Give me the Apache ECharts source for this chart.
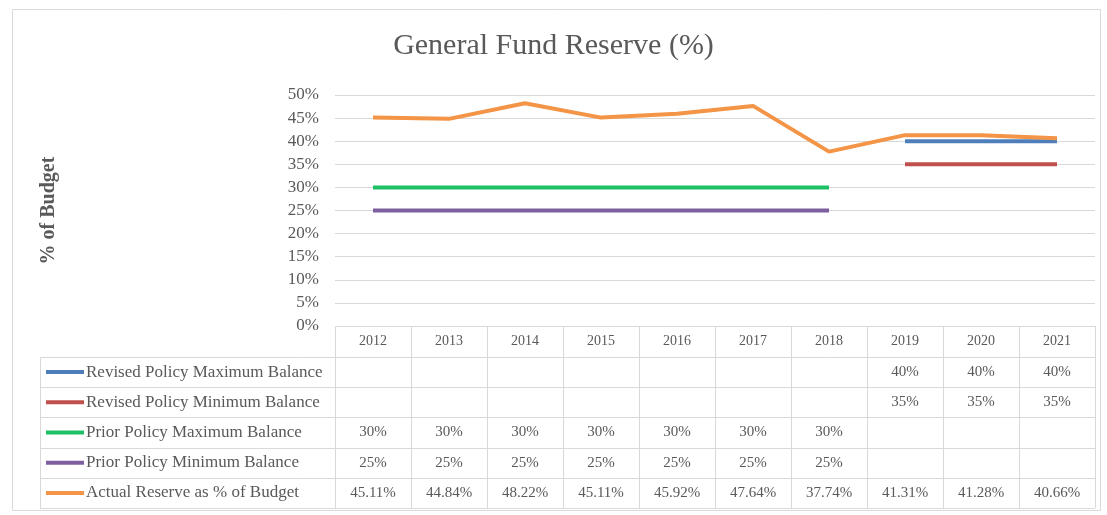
<!DOCTYPE html>
<html>
<head>
<meta charset="utf-8">
<script src="https://cdn.jsdelivr.net/npm/echarts@6/dist/echarts.min.js"></script>
<style>
  html, body { margin: 0; padding: 0; background: #fff; }
  #main { width: 1107px; height: 515px; }
</style>
</head>
<body>
<div id="main"></div>
<script>
// data
const years = ['2012', '2013', '2014', '2015', '2016', '2017', '2018', '2019', '2020', '2021'];
const revisedMax = [null, null, null, null, null, null, null, 40, 40, 40];
const revisedMin = [null, null, null, null, null, null, null, 35, 35, 35];
const priorMax = [30, 30, 30, 30, 30, 30, 30, null, null, null];
const priorMin = [25, 25, 25, 25, 25, 25, 25, null, null, null];
const actual = [45.11, 44.84, 48.22, 45.11, 45.92, 47.64, 37.74, 41.31, 41.28, 40.66];
const yTicks = [0, 5, 10, 15, 20, 25, 30, 35, 40, 45, 50];

const rows = [
  { name: 'Revised Policy Maximum Balance', data: revisedMax, color: '#4f7fba', dec: 0 },
  { name: 'Revised Policy Minimum Balance', data: revisedMin, color: '#bf504d', dec: 0 },
  { name: 'Prior Policy Maximum Balance', data: priorMax, color: '#1fc166', dec: 0 },
  { name: 'Prior Policy Minimum Balance', data: priorMin, color: '#7d5fa0', dec: 0 },
  { name: 'Actual Reserve as % of Budget', data: actual, color: '#f39446', dec: 2 }
];

const FONT = '"Liberation Serif", "DejaVu Serif", serif';
const TXT = '#595959';
const BORDER = '#d9d9d9';

const chart = echarts.init(document.getElementById('main'));

const gridTop = 95, gridBottom = 326, gridLeft = 335, gridRight = 1095;

chart.setOption({
  backgroundColor: '#fff',
  animation: false,
  title: {
    text: 'General Fund Reserve (%)',
    left: 'center', top: 26,
    textStyle: { fontFamily: FONT, fontSize: 30, fontWeight: 'normal', color: TXT }
  },
  grid: { left: gridLeft, right: 1107 - gridRight, top: gridTop, bottom: 515 - gridBottom },
  xAxis: {
    type: 'category', data: years, boundaryGap: true,
    axisLine: { show: false }, axisTick: { show: false },
    axisLabel: { show: false }
  },
  yAxis: {
    type: 'value', min: yTicks[0], max: yTicks[yTicks.length - 1], interval: 5,
    name: '% of Budget', nameLocation: 'middle', nameGap: 276, nameRotate: 90,
    nameTextStyle: { fontFamily: FONT, fontSize: 20, fontWeight: 'bold', color: TXT },
    axisLine: { show: false }, axisTick: { show: false },
    axisLabel: { formatter: v => v + '%', fontFamily: FONT, fontSize: 17, color: TXT, margin: 16 },
    splitLine: { lineStyle: { color: BORDER, width: 1 } }
  },
  series: rows.map(r => ({
    name: r.name, type: 'line', data: r.data,
    symbol: 'none', connectNulls: false,
    lineStyle: { color: r.color, width: 4 },
    itemStyle: { color: r.color }
  }))
});

// data table under the plot, aligned to the category axis
function buildTable() {
  const g = [];
  const xs = years.map((_, i) => chart.convertToPixel({ xAxisIndex: 0 }, i));
  const half = (xs[1] - xs[0]) / 2;
  const left = 40, tableLeft = xs[0] - half, right = xs[xs.length - 1] + half;
  const headTop = gridBottom, headBot = 357, rowH = 30.2;
  const bottom = headBot + rowH * rows.length;

  // outer frame
  g.push({ type: 'rect', shape: { x: 12.5, y: 9.5, width: 1088, height: 501 },
    style: { fill: 'none', stroke: BORDER, lineWidth: 1 } });

  // horizontal lines
  g.push({ type: 'line', shape: { x1: tableLeft, y1: headTop + 0.5, x2: right, y2: headTop + 0.5 },
    style: { stroke: BORDER, lineWidth: 1 } });
  for (let k = 0; k <= rows.length; k++) {
    const y = Math.round(headBot + rowH * k) + 0.5;
    g.push({ type: 'line', shape: { x1: left, y1: y, x2: right, y2: y },
      style: { stroke: BORDER, lineWidth: 1 } });
  }
  // vertical lines
  g.push({ type: 'line', shape: { x1: left + 0.5, y1: headBot, x2: left + 0.5, y2: bottom },
    style: { stroke: BORDER, lineWidth: 1 } });
  for (let i = 0; i <= years.length; i++) {
    const x = Math.round(tableLeft + 2 * half * i) + 0.5;
    g.push({ type: 'line', shape: { x1: x, y1: headTop, x2: x, y2: bottom },
      style: { stroke: BORDER, lineWidth: 1 } });
  }
  // header years
  years.forEach((y, i) => g.push({ type: 'text', x: xs[i], y: (headTop + headBot) / 2,
    style: { text: y, fontFamily: FONT, fontSize: 14, fill: TXT, align: 'center', verticalAlign: 'middle' } }));
  // rows
  rows.forEach((r, k) => {
    const cy = headBot + rowH * (k + 0.5);
    g.push({ type: 'line', shape: { x1: 46, y1: cy, x2: 84, y2: cy },
      style: { stroke: r.color, lineWidth: 4 } });
    g.push({ type: 'text', x: 86, y: cy,
      style: { text: r.name, fontFamily: FONT, fontSize: 17, fill: TXT, verticalAlign: 'middle' } });
    r.data.forEach((v, i) => {
      if (v == null) return;
      g.push({ type: 'text', x: xs[i], y: cy,
        style: { text: v.toFixed(r.dec) + '%', fontFamily: FONT, fontSize: 15, fill: TXT,
          align: 'center', verticalAlign: 'middle' } });
    });
  });
  chart.setOption({ graphic: { elements: g } });
}
buildTable();
</script>
</body>
</html>
